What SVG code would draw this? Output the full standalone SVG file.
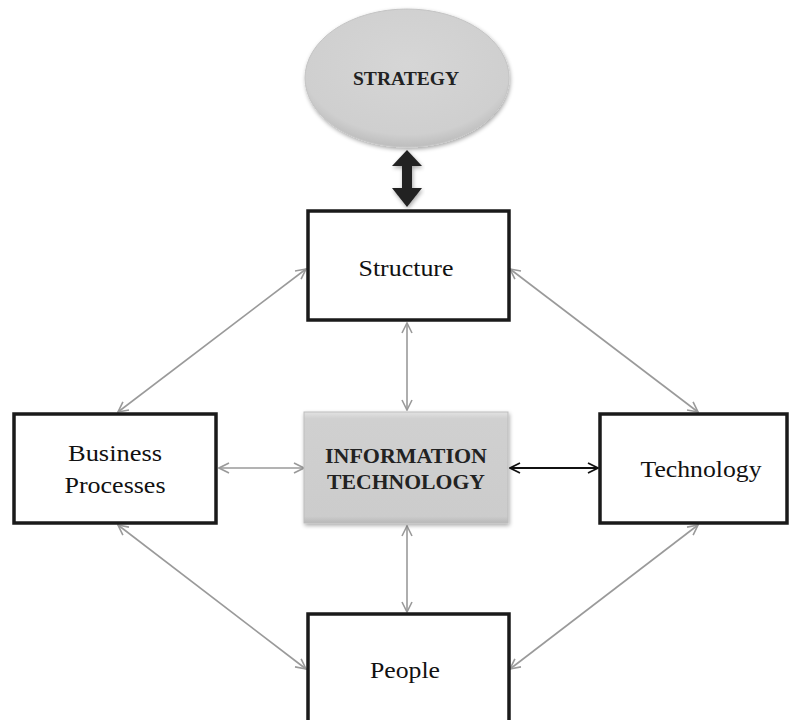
<svg xmlns="http://www.w3.org/2000/svg" width="790" height="720" viewBox="0 0 790 720">
<style>
.box{fill:#fff;stroke:#1a1a1a;stroke-width:3.5}
.t{font-family:"Liberation Serif","DejaVu Serif",serif;font-size:24px;fill:#111;text-anchor:middle}
.b{font-family:"Liberation Serif","DejaVu Serif",serif;font-weight:bold;fill:#222;text-anchor:middle}
.g{stroke:#9a9a9a;stroke-width:1.6;fill:none;marker-start:url(#ga);marker-end:url(#ga)}
.k{stroke:#111;stroke-width:1.8;fill:none;marker-start:url(#ka);marker-end:url(#ka)}
</style>
<defs>
<marker id="ga" viewBox="0 0 12 12" refX="11" refY="6" markerWidth="12" markerHeight="12" markerUnits="userSpaceOnUse" orient="auto-start-reverse">
<path d="M1,1 L11,6 L1,11" fill="none" stroke="#9a9a9a" stroke-width="1.6"/>
</marker>
<marker id="ka" viewBox="0 0 12 12" refX="11" refY="6" markerWidth="12" markerHeight="12" markerUnits="userSpaceOnUse" orient="auto-start-reverse">
<path d="M1,1 L11,6 L1,11" fill="none" stroke="#111" stroke-width="1.8"/>
</marker>
<radialGradient id="eg" cx="0.5" cy="0.4" r="0.6">
<stop offset="0" stop-color="#d6d6d6"/>
<stop offset="0.85" stop-color="#cfcfcf"/>
<stop offset="1" stop-color="#bdbdbd"/>
</radialGradient>
<linearGradient id="itg" x1="0" y1="0" x2="0" y2="1">
<stop offset="0" stop-color="#e2e2e2"/>
<stop offset="0.06" stop-color="#d0d0d0"/>
<stop offset="0.94" stop-color="#cccccc"/>
<stop offset="1" stop-color="#b8b8b8"/>
</linearGradient>
<filter id="sh" x="-10%" y="-10%" width="120%" height="125%">
<feGaussianBlur in="SourceAlpha" stdDeviation="2"/>
<feOffset dx="1" dy="2" result="o"/>
<feComponentTransfer><feFuncA type="linear" slope="0.35"/></feComponentTransfer>
<feMerge><feMergeNode/><feMergeNode in="SourceGraphic"/></feMerge>
</filter>
</defs>
<g id="connectors">
<line class="g" x1="306" y1="269" x2="118" y2="412"/>
<line class="g" x1="510" y1="269" x2="698" y2="412"/>
<line class="g" x1="407" y1="323" x2="407" y2="410"/>
<line class="g" x1="219" y1="468" x2="304" y2="468"/>
<line class="k" x1="510" y1="468" x2="598" y2="468"/>
<line class="g" x1="407" y1="526" x2="407" y2="612"/>
<line class="g" x1="118" y1="525" x2="306" y2="669"/>
<line class="g" x1="698" y1="525" x2="510" y2="669"/>
<path id="thick-arrow" d="M407,150 L422,166 L412,166 L412,188 L422,188 L407,207 L392,188 L402,188 L402,166 L392,166 Z" fill="#222" filter="url(#sh)"/>
</g>
<g id="strategy">
<ellipse cx="407" cy="78" rx="102" ry="69" fill="url(#eg)" stroke="#c4c4c4" stroke-width="1" filter="url(#sh)"/>
<text class="b" x="406" y="85" font-size="18" textLength="106" lengthAdjust="spacingAndGlyphs">STRATEGY</text>
</g>
<g id="structure">
<rect class="box" x="308" y="211" width="201" height="109"/>
<text class="t" x="406" y="276" textLength="95" lengthAdjust="spacingAndGlyphs">Structure</text>
</g>
<g id="business">
<rect class="box" x="14" y="414" width="202" height="109"/>
<text class="t" x="115" y="461" textLength="94" lengthAdjust="spacingAndGlyphs">Business</text>
<text class="t" x="115" y="493" textLength="101" lengthAdjust="spacingAndGlyphs">Processes</text>
</g>
<g id="it">
<rect x="304" y="412" width="204" height="111" fill="url(#itg)" stroke="#bdbdbd" stroke-width="1" filter="url(#sh)"/>
<text class="b" x="406" y="463" font-size="20" textLength="162" lengthAdjust="spacingAndGlyphs">INFORMATION</text>
<text class="b" x="406" y="489" font-size="20" textLength="158" lengthAdjust="spacingAndGlyphs">TECHNOLOGY</text>
</g>
<g id="technology">
<rect class="box" x="600" y="414" width="187" height="109"/>
<text class="t" x="701" y="477" textLength="121" lengthAdjust="spacingAndGlyphs">Technology</text>
</g>
<g id="people">
<rect class="box" x="308" y="614" width="201" height="110"/>
<text class="t" x="405" y="678" textLength="70" lengthAdjust="spacingAndGlyphs">People</text>
</g>
</svg>
